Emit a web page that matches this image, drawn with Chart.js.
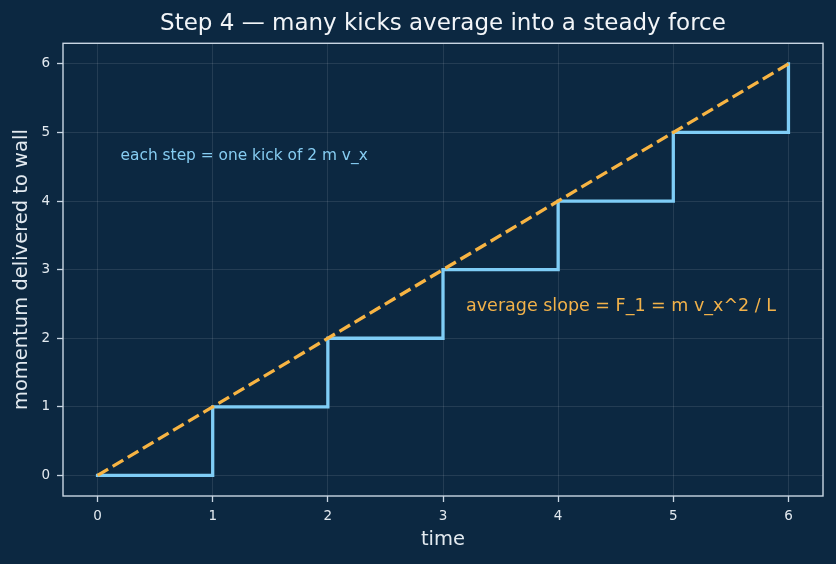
<!DOCTYPE html>
<html>
<head>
<meta charset="utf-8">
<script src="https://cdn.jsdelivr.net/npm/chart.js@4.4.1/dist/chart.umd.min.js"></script>
<style>
	html, body { margin: 0; padding: 0; background: #0c2841; }
	#wrap { width: 836px; height: 564px; }
</style>
</head>
<body>
<div id="wrap"><canvas id="chart-kicks" width="836" height="564"></canvas></div>
<script>
// Data
const kickTimes = [0, 1, 2, 3, 4, 5, 6];
const momentum = [0, 1, 2, 3, 4, 5, 6];
const avgTimes = [0, 6];
const avgMomentum = [0, 6];
const xTicks = [0, 1, 2, 3, 4, 5, 6];
const yTicks = [0, 1, 2, 3, 4, 5, 6];

const BG = "#0c2841";
const STEP_COLOR = "#7fcdf6";
const AVG_COLOR = "#f7b443";
const TEXT_COLOR = "#e3eaf0";
const SPINE_COLOR = "#c9d6e3";
const GRID_COLOR = "rgba(255, 255, 255, 0.13)";

Chart.defaults.font.family = "'DejaVu Sans', sans-serif";

// Notes placed in data coordinates
const NOTES = [
	{ text: "each step = one kick of 2 m v_x", x: 0.2, y: 4.6, color: "#86cdf2", size: 15.4 },
	{ text: "average slope = F_1 = m v_x^2 / L", x: 3.2, y: 2.4, color: "#f2b24a", size: 17.5 },
];

const framePlugin = {
	id: "frame",
	beforeDraw(chart) {
		const { ctx } = chart;
		ctx.save();
		ctx.fillStyle = BG;
		ctx.fillRect(0, 0, chart.width, chart.height);
		ctx.restore();
	},
	afterDraw(chart) {
		const { ctx, chartArea: a, scales } = chart;
		ctx.save();
		// notes
		NOTES.forEach((n) => {
			ctx.font = `${n.size}px 'DejaVu Sans', sans-serif`;
			ctx.fillStyle = n.color;
			ctx.textAlign = "left";
			ctx.textBaseline = "alphabetic";
			ctx.fillText(n.text, scales.x.getPixelForValue(n.x), scales.y.getPixelForValue(n.y));
		});
		// spines
		ctx.strokeStyle = SPINE_COLOR;
		ctx.lineWidth = 1.4;
		ctx.strokeRect(a.left, a.top, a.right - a.left, a.bottom - a.top);
		ctx.restore();
	},
};

const tickFont = { size: 13.5 };
const titleFont = { size: 19.5 };

const CHART_DATA = {
	datasets: [
		{
			label: "average",
			data: avgTimes.map((t, i) => ({ x: t, y: avgMomentum[i] })),
			borderColor: AVG_COLOR,
			borderWidth: 3.3,
			borderDash: [12.3, 5.3],
			pointRadius: 0,
			order: 0,
		},
		{
			label: "kicks",
			data: kickTimes.map((t, i) => ({ x: t, y: momentum[i] })),
			borderColor: STEP_COLOR,
			borderWidth: 3.3,
			stepped: "before",
			borderCapStyle: "square",
			pointRadius: 0,
			order: 1,
		},
	],
};

const CHART_CONFIG = {
	type: "line",
	data: CHART_DATA,
	options: {
		responsive: false,
		animation: false,
		layout: { padding: { left: 0, right: 13, top: 0, bottom: 0 } },
		plugins: {
			legend: { display: false },
			tooltip: { enabled: false },
			title: {
				display: true,
				text: "Step 4 — many kicks average into a steady force",
				color: "#f2f5f8",
				font: { size: 23, weight: "normal" },
				padding: { top: 10, bottom: 5.7 },
				fullSize: false,
			},
		},
		scales: {
			x: {
				type: "linear",
				min: -0.3,
				max: 6.3,
				border: { display: false },
				grid: {
					color: GRID_COLOR,
					lineWidth: 0.8,
					tickLength: 6,
					tickColor: SPINE_COLOR,
					tickWidth: 1.3,
				},
				ticks: { color: TEXT_COLOR, font: tickFont, padding: 6, maxRotation: 0 },
				afterBuildTicks: (scale) => {
					scale.ticks = xTicks.map((v) => ({ value: v }));
				},
				afterFit: (scale) => {
					scale.height = 68;
				},
				title: {
					display: true,
					text: "time",
					color: TEXT_COLOR,
					font: titleFont,
					padding: { top: 0, bottom: 12.3 },
				},
			},
			y: {
				type: "linear",
				min: -0.3,
				max: 6.3,
				border: { display: false },
				grid: {
					color: GRID_COLOR,
					lineWidth: 0.8,
					tickLength: 6,
					tickColor: SPINE_COLOR,
					tickWidth: 1.3,
				},
				ticks: { color: TEXT_COLOR, font: tickFont, padding: 7 },
				afterBuildTicks: (scale) => {
					scale.ticks = yTicks.map((v) => ({ value: v }));
				},
				afterFit: (scale) => {
					scale.width = 63;
				},
				title: {
					display: true,
					text: "momentum delivered to wall",
					color: TEXT_COLOR,
					font: titleFont,
					padding: { top: 10, bottom: 0 },
				},
			},
		},
	},
	plugins: [framePlugin],
};

new Chart(document.getElementById("chart-kicks"), CHART_CONFIG);
</script>
</body>
</html>
